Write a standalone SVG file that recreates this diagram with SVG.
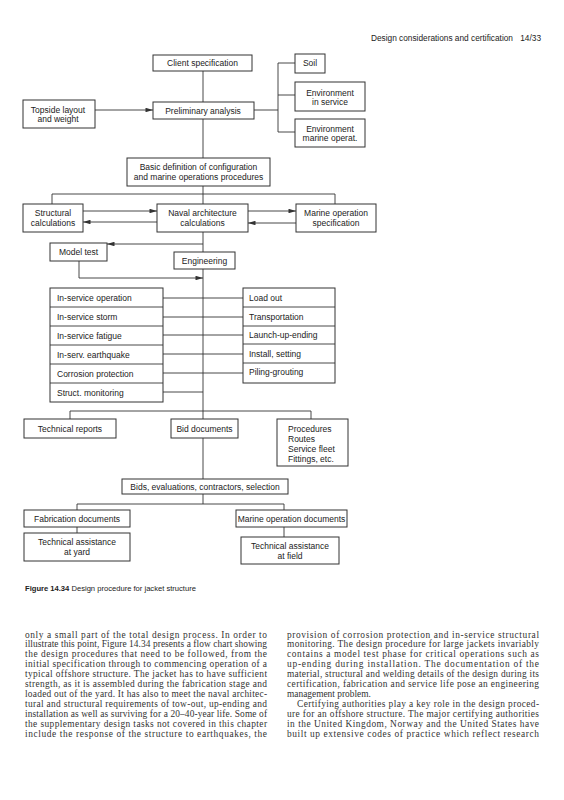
<svg xmlns="http://www.w3.org/2000/svg" width="564" height="800" viewBox="0 0 564 800">
<defs>
<style>
.b{fill:#fff;stroke:#333;stroke-width:1}
.t{font-family:"Liberation Sans",Arial,sans-serif;font-size:8.5px;fill:#222}
.c{text-anchor:middle}
.l{fill:none;stroke:#333;stroke-width:0.9}
.a{fill:none;stroke:#333;stroke-width:0.9;marker-end:url(#ah)}
.body{font-family:"Liberation Serif","Times New Roman",serif;font-size:9.4px;fill:#333}
</style>
<marker id="ah" viewBox="0 0 10 6" refX="10" refY="3" markerWidth="8" markerHeight="4.5" markerUnits="userSpaceOnUse" orient="auto">
<path d="M0,0 L10,3 L0,6 Z" fill="#333"/>
</marker>
</defs>
<rect width="564" height="800" fill="#fff"/>
<text x="513" y="41" class="t" style="font-size:8.3px;text-anchor:end">Design considerations and certification</text>
<text x="541" y="41" class="t" style="font-size:8.3px;text-anchor:end">14/33</text>

<g id="connectors">
<path class="l" d="M203,71V102 M254,110H278 M278,63V132 M278,63H295 M278,95H295 M278,132H295 M203,119V158 M203,186V204 M52,204V194H335V204"/>
<path class="a" d="M95,110H153"/>
<path class="a" d="M83,211H157"/>
<path class="a" d="M157,222H83"/>
<path class="a" d="M248,211H296"/>
<path class="a" d="M296,223H248"/>
<path class="l" d="M203,232V252 M203,269V419"/>
<path class="a" d="M203,244H107"/>
<path class="a" d="M79,261V278H203"/>
<path class="l" d="M163,298H243 M163,317H243 M163,335H243 M163,354H243 M163,373H243 M163,392H203"/>
<path class="l" d="M70,419V411H311V419 M203,438V479 M203,494V504 M77,510V504H284V510 M77,527V533 M284,527V537"/>
</g>

<g id="client"><rect class="b" x="153" y="55" width="99" height="16"/><text class="t c" x="202.5" y="66">Client specification</text></g>
<g id="topside"><rect class="b" x="23" y="100" width="72" height="28"/><text class="t c" x="58" y="113">Topside layout</text><text class="t c" x="58" y="122">and weight</text></g>
<g id="prelim"><rect class="b" x="153" y="102" width="101" height="17"/><text class="t c" x="203" y="113.5">Preliminary analysis</text></g>
<g id="soil"><rect class="b" x="295" y="54" width="30" height="19"/><text class="t c" x="310" y="66">Soil</text></g>
<g id="envservice"><rect class="b" x="295" y="82" width="70" height="29"/><text class="t c" x="330" y="96">Environment</text><text class="t c" x="330" y="105">in service</text></g>
<g id="envmarine"><rect class="b" x="295" y="119" width="70" height="28"/><text class="t c" x="330" y="132">Environment</text><text class="t c" x="330" y="141">marine operat.</text></g>
<g id="basic"><rect class="b" x="127" y="158" width="143" height="28"/><text class="t c" x="198.5" y="170">Basic definition of configuration</text><text class="t c" x="198.5" y="180">and marine operations procedures</text></g>
<g id="structural"><rect class="b" x="23" y="204" width="60" height="28"/><text class="t c" x="53" y="216">Structural</text><text class="t c" x="53" y="226">calculations</text></g>
<g id="naval"><rect class="b" x="157" y="204" width="91" height="28"/><text class="t c" x="202.5" y="216">Naval architecture</text><text class="t c" x="202.5" y="226">calculations</text></g>
<g id="marinespec"><rect class="b" x="296" y="204" width="80" height="28"/><text class="t c" x="336" y="216">Marine operation</text><text class="t c" x="336" y="226">specification</text></g>
<g id="modeltest"><rect class="b" x="50" y="243" width="57" height="18"/><text class="t c" x="78.5" y="255">Model test</text></g>
<g id="engineering"><rect class="b" x="174" y="252" width="61" height="17"/><text class="t c" x="204.5" y="263.5">Engineering</text></g>

<g id="inservice">
<rect class="b" x="50" y="288" width="113" height="114"/>
<path class="l" d="M50,307H163 M50,326H163 M50,345H163 M50,364H163 M50,383H163"/>
<text class="t" x="57" y="301">In-service operation</text>
<text class="t" x="57" y="320">In-service storm</text>
<text class="t" x="57" y="338.5">In-service fatigue</text>
<text class="t" x="57" y="357.5">In-serv. earthquake</text>
<text class="t" x="57" y="376.5">Corrosion protection</text>
<text class="t" x="57" y="395.5">Struct. monitoring</text>
</g>
<g id="marineops">
<rect class="b" x="243" y="288" width="92" height="95"/>
<path class="l" d="M243,307H335 M243,326H335 M243,344H335 M243,363H335"/>
<text class="t" x="249" y="300.5">Load out</text>
<text class="t" x="249" y="319.5">Transportation</text>
<text class="t" x="249" y="338">Launch-up-ending</text>
<text class="t" x="249" y="356.5">Install, setting</text>
<text class="t" x="249" y="375">Piling-grouting</text>
</g>

<g id="techreports"><rect class="b" x="24" y="419" width="92" height="19"/><text class="t c" x="70" y="431.5">Technical reports</text></g>
<g id="biddocs"><rect class="b" x="171" y="419" width="67" height="19"/><text class="t c" x="204.5" y="431.5">Bid documents</text></g>
<g id="procedures"><rect class="b" x="277" y="419" width="71" height="47"/>
<text class="t" x="288" y="432">Procedures</text><text class="t" x="288" y="442">Routes</text><text class="t" x="288" y="452">Service fleet</text><text class="t" x="288" y="462">Fittings, etc.</text></g>
<g id="bids"><rect class="b" x="122" y="479" width="166" height="15"/><text class="t c" x="205" y="489.5">Bids, evaluations, contractors, selection</text></g>
<g id="fabdocs"><rect class="b" x="24" y="510" width="106" height="17"/><text class="t c" x="77" y="521.5">Fabrication documents</text></g>
<g id="marinedocs"><rect class="b" x="236" y="510" width="111" height="17"/><text class="t c" x="291.5" y="521.5">Marine operation documents</text></g>
<g id="techyard"><rect class="b" x="24" y="533" width="106" height="28"/><text class="t c" x="77" y="545">Technical assistance</text><text class="t c" x="77" y="554.5">at yard</text></g>
<g id="techfield"><rect class="b" x="241" y="537" width="98" height="27"/><text class="t c" x="290" y="549">Technical assistance</text><text class="t c" x="290" y="558.5">at field</text></g>

<text class="t" x="25" y="591" style="font-size:7.6px"><tspan font-weight="bold">Figure 14.34</tspan>  Design procedure for jacket structure</text>

<g class="body">
<text x="25" y="637.5" textLength="242" lengthAdjust="spacing">only a small part of the total design process. In order to</text>
<text x="25" y="647.4" textLength="242" lengthAdjust="spacing">illustrate this point, Figure 14.34 presents a flow chart showing</text>
<text x="25" y="657.3" textLength="242" lengthAdjust="spacing">the design procedures that need to be followed, from the</text>
<text x="25" y="667.2" textLength="242" lengthAdjust="spacing">initial specification through to commencing operation of a</text>
<text x="25" y="677.1" textLength="242" lengthAdjust="spacing">typical offshore structure. The jacket has to have sufficient</text>
<text x="25" y="687" textLength="242" lengthAdjust="spacing">strength, as it is assembled during the fabrication stage and</text>
<text x="25" y="696.9" textLength="242" lengthAdjust="spacing">loaded out of the yard. It has also to meet the naval architec-</text>
<text x="25" y="706.8" textLength="242" lengthAdjust="spacing">tural and structural requirements of tow-out, up-ending and</text>
<text x="25" y="716.7" textLength="242" lengthAdjust="spacing">installation as well as surviving for a 20–40-year life. Some of</text>
<text x="25" y="726.6" textLength="242" lengthAdjust="spacing">the supplementary design tasks not covered in this chapter</text>
<text x="25" y="736.5" textLength="242" lengthAdjust="spacing">include the response of the structure to earthquakes, the</text>
<text x="287" y="637.5" textLength="252" lengthAdjust="spacing">provision of corrosion protection and in-service structural</text>
<text x="287" y="647.4" textLength="252" lengthAdjust="spacing">monitoring. The design procedure for large jackets invariably</text>
<text x="287" y="657.3" textLength="252" lengthAdjust="spacing">contains a model test phase for critical operations such as</text>
<text x="287" y="667.2" textLength="252" lengthAdjust="spacing">up-ending during installation. The documentation of the</text>
<text x="287" y="677.1" textLength="252" lengthAdjust="spacing">material, structural and welding details of the design during its</text>
<text x="287" y="687" textLength="252" lengthAdjust="spacing">certification, fabrication and service life pose an engineering</text>
<text x="287" y="696.9">management problem.</text>
<text x="297" y="706.8" textLength="242" lengthAdjust="spacing">Certifying authorities play a key role in the design proced-</text>
<text x="287" y="716.7" textLength="252" lengthAdjust="spacing">ure for an offshore structure. The major certifying authorities</text>
<text x="287" y="726.6" textLength="252" lengthAdjust="spacing">in the United Kingdom, Norway and the United States have</text>
<text x="287" y="736.5" textLength="252" lengthAdjust="spacing">built up extensive codes of practice which reflect research</text>
</g>
</svg>
